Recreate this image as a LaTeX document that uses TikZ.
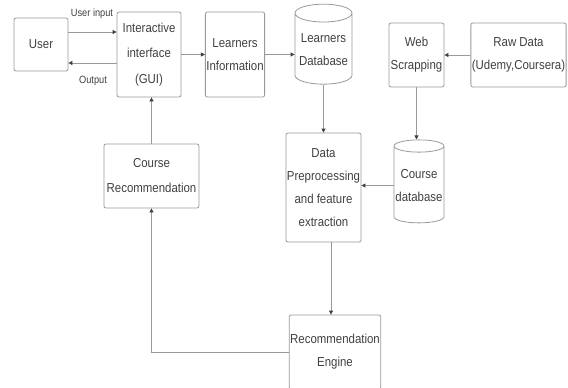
\documentclass[tikz,border=0pt]{standalone}
\usepackage{fontspec}
\setmainfont{Liberation Sans}[FakeStretch=0.88]
\usetikzlibrary{shapes.geometric,arrows.meta,positioning}
\definecolor{txtgray}{HTML}{404040}
\definecolor{edgegray}{HTML}{999999}

\begin{document}
\begin{tikzpicture}[x=1pt, y=-1pt,
  box/.style={rectangle, draw=edgegray, rounded corners=2pt, line width=0.8pt, align=center,
    text=txtgray, font=\fontsize{13}{23}\selectfont, inner sep=1pt},
  dbase/.style={cylinder, shape border rotate=90, draw=edgegray, line width=0.8pt, align=center,
    text=txtgray, font=\fontsize{13}{23}\selectfont, inner sep=1pt},
  link/.style={draw=edgegray, line width=0.8pt, -{Triangle[length=4pt, width=4pt, color=black!75]}},
  lbl/.style={font=\fontsize{10.5}{12}\selectfont, text=txtgray}]
\useasboundingbox (0,0) rectangle (568,388);
% boxes along the top
\node[box, minimum width=54pt, minimum height=53pt] (user) at (41,44.5) {User};
\node[box, minimum width=64pt, minimum height=85pt, font=\fontsize{13}{25.5}\selectfont] (gui) at (149,54.5) {Interactive\\interface\\(GUI)};
\node[box, minimum width=56pt, minimum height=85pt] (linfo) at (235,54.5) {Learners\\Information};
\node[dbase, minimum width=57pt, minimum height=80pt, aspect=0.35] (ldb) at (323.5,50) {Learners\\Database};
\node[box, minimum width=55pt, minimum height=64pt] (web) at (416.5,55) {Web\\Scrapping};
\node[box, minimum width=91pt, minimum height=64pt] (raw) at (518.5,55) {Raw Data\\(Udemy,Coursera)};
% middle and bottom
\node[box, minimum width=95pt, minimum height=64pt, font=\fontsize{13}{25}\selectfont] (crec) at (151.5,176) {Course\\Recommendation};
\node[box, minimum width=71pt, minimum height=109pt] (prep) at (323.5,187.5) {Data\\Preprocessing\\and feature\\extraction};
\node[dbase, minimum width=50pt, minimum height=83pt, aspect=0.25] (cdb) at (419,185.5) {Course\\database};
\node[box, minimum width=90pt, minimum height=74pt] (engine) at (335,352) {Recommendation\\Engine};
% labels
\node[lbl] (inlbl) at (92,14) {User input};
\node[lbl] (outlbl) at (93,81) {Output};
% connectors
\draw[link] ([yshift=12.5pt]user.east) -- ([yshift=12.5pt]user.east -| gui.west);
\draw[link] ([yshift=-18.5pt]user.east -| gui.west) -- ([yshift=-18.5pt]user.east);
\draw[link] (gui.east) -- (linfo.west);
\draw[link] (linfo.east) -- (linfo.east -| ldb.west);
\draw[link] (raw.west) -- (web.east);
\draw[link] (web.south) -- (web.south |- cdb.north);
\draw[link] (ldb.south) -- (prep.north);
\draw[link] (cdb.west) -- (cdb.west -| prep.east);
\draw[link] ([xshift=7.5pt]prep.south) -- ([xshift=7.5pt]prep.south |- engine.north);
\draw[link] (engine.west) -| (crec.south);
\draw[link] (crec.north) -- (crec.north |- gui.south);
\end{tikzpicture}
\end{document}
